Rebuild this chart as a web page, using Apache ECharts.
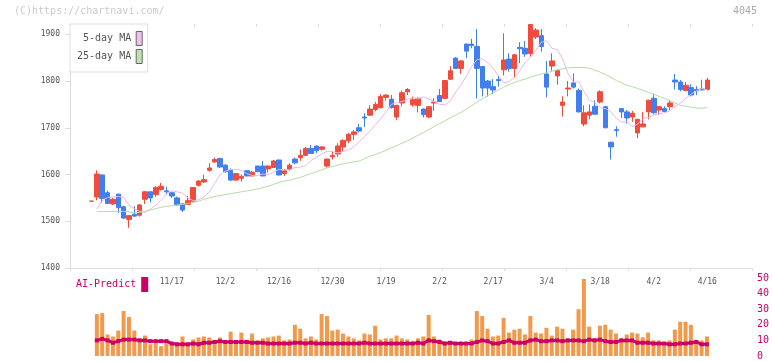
<!DOCTYPE html>
<html><head><meta charset="utf-8">
<script src="https://cdn.jsdelivr.net/npm/echarts@6/dist/echarts.min.js"></script>
<style>html,body{margin:0;padding:0;background:#fff}#c{width:772px;height:361px}</style>
</head><body><div id="c"></div>
<script>
const tickLabels = ['11/17','12/2','12/16','12/30','1/19','2/2','2/17','3/4','3/18','4/2','4/16'];
const tickIndex = [15,25,35,45,55,65,75,85,95,105,115];
const priceTicks = [1400,1500,1600,1700,1800,1900];
const volTicks = [0,10,20,30,40,50];

const openP = [1543,1552,1599,1561,1537,1558,1531,1504,1515,1513,1547,1563,1557,1568,1565,1561,1550,1537,1536,1543,
1577,1584,1609,1627,1634,1620,1609,1588,1592,1608,1597,1618,1618,1612,1615,1631,1602,1611,1633,1636,
1641,1656,1661,1654,1618,1638,1644,1659,1672,1686,1700,1723,1727,1739,1743,1765,1761,1723,1753,1777,
1749,1748,1740,1723,1753,1769,1763,1804,1849,1827,1879,1879,1874,1831,1800,1788,1803,1824,1847,1827,
1872,1870,1859,1894,1897,1815,1832,1811,1748,1783,1796,1780,1708,1727,1746,1755,1745,1669,1696,1741,
1734,1723,1689,1702,1734,1763,1738,1741,1745,1802,1798,1780,1786,1782,1783,1782];
const closeP = [1543,1601,1549,1538,1547,1529,1507,1512,1511,1535,1563,1550,1572,1575,1563,1554,1535,1524,1544,1572,
1586,1589,1614,1632,1616,1606,1588,1602,1596,1597,1605,1606,1597,1618,1629,1599,1608,1620,1625,1641,
1656,1645,1651,1659,1633,1641,1661,1673,1686,1691,1693,1721,1740,1750,1767,1770,1743,1748,1775,1782,
1760,1763,1728,1745,1755,1756,1801,1822,1827,1843,1864,1876,1827,1785,1785,1781,1801,1845,1827,1856,
1869,1858,1921,1909,1874,1787,1843,1822,1755,1785,1787,1734,1732,1734,1729,1777,1700,1659,1694,1734,
1721,1731,1718,1708,1759,1732,1745,1735,1753,1798,1782,1791,1770,1779,1781,1802];
const lowP = [1543,1545,1539,1537,1535,1518,1505,1486,1509,1510,1537,1540,1552,1566,1557,1550,1533,1520,1535,1541,
1574,1582,1606,1625,1614,1604,1586,1587,1585,1596,1596,1605,1596,1604,1614,1598,1597,1608,1622,1629,
1640,1644,1646,1651,1615,1632,1638,1649,1667,1674,1690,1702,1725,1735,1741,1758,1741,1716,1746,1770,
1745,1733,1722,1721,1736,1755,1761,1802,1826,1815,1849,1870,1763,1767,1767,1772,1788,1812,1820,1807,
1838,1852,1852,1890,1863,1765,1822,1792,1724,1767,1784,1733,1703,1718,1728,1752,1699,1632,1681,1721,
1709,1713,1678,1701,1718,1729,1727,1733,1738,1782,1778,1778,1767,1770,1780,1780];
const highP = [1543,1609,1600,1565,1550,1559,1533,1513,1532,1537,1565,1564,1575,1582,1574,1563,1553,1539,1554,1573,
1588,1600,1624,1636,1636,1622,1613,1603,1600,1609,1608,1619,1629,1620,1631,1632,1612,1624,1636,1654,
1659,1663,1662,1661,1634,1649,1667,1675,1689,1695,1708,1731,1748,1755,1772,1771,1770,1749,1780,1785,
1767,1765,1741,1746,1763,1783,1802,1832,1851,1845,1880,1890,1911,1832,1802,1804,1812,1902,1859,1858,
1883,1886,1922,1913,1911,1843,1859,1825,1767,1800,1816,1784,1748,1750,1759,1780,1747,1670,1703,1742,
1738,1736,1719,1734,1760,1772,1747,1746,1759,1815,1802,1798,1793,1789,1803,1807];
const ma5 = [null,1526,1544,1551,1552,1553,1551,1534,1527,1521,1519,1526,1534,1546,1559,1565,1563,1560,1550,1544,
1546,1552,1563,1581,1599,1607,1611,1611,1609,1602,1598,1598,1601,1600,1605,1611,1610,1610,1615,1616,
1619,1630,1637,1644,1650,1649,1646,1649,1653,1659,1670,1681,1693,1706,1719,1734,1750,1754,1756,1761,
1764,1762,1766,1762,1756,1750,1749,1757,1776,1792,1810,1831,1846,1847,1839,1827,1811,1796,1799,1808,
1822,1840,1851,1866,1883,1886,1870,1867,1847,1816,1798,1798,1777,1759,1754,1743,1741,1734,1720,1712,
1713,1702,1708,1720,1722,1727,1730,1732,1736,1745,1753,1763,1772,1779,1784,1781];
const ma25 = [null,1521,1521,1521,1521,1521,1521,1520,1518,1519,1521,1524,1527,1530,1532,1533,1535,1536,1538,1540,
1543,1547,1550,1553,1555,1557,1559,1561,1563,1565,1567,1569,1572,1575,1579,1583,1586,1588,1591,1594,
1598,1602,1606,1610,1614,1617,1620,1623,1625,1627,1629,1634,1639,1643,1647,1652,1657,1662,1667,1672,
1678,1684,1690,1696,1703,1709,1715,1721,1727,1733,1740,1747,1755,1762,1769,1775,1781,1787,1792,1797,
1801,1804,1808,1812,1815,1818,1821,1824,1826,1828,1829,1829,1829,1827,1823,1819,1814,1808,1801,1796,
1791,1788,1784,1780,1776,1772,1767,1763,1758,1753,1748,1746,1744,1742,1742,1743];
const volume = [null,26.9,27.5,13.8,12.5,16.3,28.8,25,16.3,11.3,13.1,7.5,8.1,6.3,8.1,7.5,7.5,12.5,8.1,10.6,
11.9,12.5,11.9,10,11.9,10,15.6,10,15,10,14.4,10,11.3,11.9,12.5,13.1,10,10.6,20,17.5,
11.3,12.5,10.6,26.9,25.6,16.3,16.9,14.4,12.5,11.3,10,14.4,13.8,19.4,10.6,11.3,11.3,13.1,11.3,10.6,
9.4,11.3,12.5,26.3,12.5,10.6,7.5,9.4,7.5,7.5,8.8,10.6,28.8,25.6,17.5,12.5,13.1,24.4,15,16.9,
17.5,13.8,25.6,15,14.4,18.1,13.1,18.8,17.5,11.3,16.9,30,49.4,18.8,11.3,19.4,20,16.9,14.4,11.3,
13.8,15,14.4,12,15,10,10,9,10,16.9,22,22,20,10,10,12.5];
const aiPredict = [null,10,11,10,8.5,9.5,10.5,10.5,10.5,10,10,9.5,9.5,9.5,9.5,8,7.5,7.5,7.5,8,
7.5,8.5,8.5,9,9.5,9,9,9,9,9,8.5,8.5,8.5,8,8,8,8,8,8.5,8.5,
8,8.5,8,8,8,8,8,8,8,8,8,8.5,8,8,8,8,8,8,8,8,
8,8.5,8,10,9.5,9,8,8.5,8,8,8,8,9,10,9.5,8,8,9,10,8.5,
8.5,8.5,10,10.5,9.5,9.5,10,10,9.5,10,10,10,9.5,10.5,10,10.5,9.5,9,9,10,
10,10,8.5,8.5,8.5,8,8,8,7.5,7.5,8,8,8.5,9,7.5,7.5];

const n = closeP.length;
const categories = [];
for (let i = 0; i < n; i++) {
  const k = tickIndex.indexOf(i);
  categories.push(k >= 0 ? tickLabels[k] : '#' + i);
}
const candles = openP.map((o, i) => [o, closeP[i], lowP[i], highP[i]]);

const MONO = 'DejaVu Sans Mono';
const RED = '#f04b3c', BLUE = '#3f7ff0';
const AXC = '#dddddd';
const plotL = 70, plotW = 682, topY = 24, plotH = 244;
const cL = 91.5, cW = 615.8;

const chart = echarts.init(document.getElementById('c'), null, {renderer: 'canvas'});
chart.setOption({
  animation: false,
  backgroundColor: '#fff',
  grid: [
    {left: plotL, top: topY, width: plotW, height: plotH},
    {left: cL, top: topY, width: cW, height: plotH},
    {left: cL, top: 278, width: cW, height: 80}
  ],
  legend: [{
    orient: 'vertical', left: 70, top: 24, align: 'right', selectedMode: false,
    itemWidth: 6, itemHeight: 14, itemGap: 3, padding: [7, 5, 8, 7],
    borderColor: AXC, borderWidth: 1, backgroundColor: '#fff',
    textStyle: {fontFamily: MONO, fontSize: 10, color: '#555'},
    data: [
      {name: '5-day MA', icon: 'rect', itemStyle: {color: '#f0bff0', borderColor: '#666', borderWidth: 1}},
      {name: '25-day MA', icon: 'rect', itemStyle: {color: '#bfe3b0', borderColor: '#666', borderWidth: 1}}
    ]
  }, {
    orient: 'horizontal', left: 76, top: 277, align: 'right', selectedMode: false,
    itemWidth: 7, itemHeight: 15, padding: 0,
    textStyle: {fontFamily: MONO, fontSize: 10, color: '#cc0066'},
    data: [{name: 'AI-Predict', icon: 'rect', itemStyle: {color: '#cc0066', borderWidth: 0}}]
  }],
  xAxis: [
    {gridIndex: 0, type: 'value', min: 0, max: 11, interval: 1,
      axisLine: {show: true, lineStyle: {color: AXC}}, axisTick: {show: true, length: 3, lineStyle: {color: AXC}},
      axisLabel: {show: false}, splitLine: {show: false}},
    {gridIndex: 0, type: 'value', min: 0, max: 11, interval: 1,
      axisLine: {show: false}, axisTick: {show: true, inside: true, length: 3, lineStyle: {color: AXC}},
      axisLabel: {show: false}, splitLine: {show: false}},
    {gridIndex: 1, type: 'category', data: categories, boundaryGap: false,
      axisLine: {show: false}, axisTick: {show: false}, splitLine: {show: false},
      axisLabel: {interval: (idx) => tickIndex.indexOf(idx) >= 0, margin: 10, fontFamily: MONO, fontSize: 8, color: '#555'}},
    {gridIndex: 2, type: 'category', data: categories, boundaryGap: false, show: false}
  ],
  yAxis: [
    {gridIndex: 0, type: 'value', min: 1400, max: 1922, interval: 100,
      axisLine: {show: true, lineStyle: {color: AXC}},
      axisTick: {show: true, length: 5, lineStyle: {color: AXC}, customValues: priceTicks},
      axisLabel: {margin: 10, fontFamily: MONO, fontSize: 8, color: '#555', customValues: priceTicks,
        formatter: (v) => String(v)},
      splitLine: {show: false}},
    {gridIndex: 1, type: 'value', min: 1400, max: 1922, show: false, splitLine: {show: false}},
    {gridIndex: 2, type: 'value', min: 0, max: 50, interval: 10, position: 'right',
      axisLine: {show: false}, axisTick: {show: false}, splitLine: {show: false},
      axisLabel: {margin: 50, fontFamily: MONO, fontSize: 10, color: '#cc0066', customValues: volTicks,
        formatter: (v) => String(v)}}
  ],
  series: [
    {name: 'price', type: 'candlestick', xAxisIndex: 2, yAxisIndex: 1, data: candles, barWidth: 5,
      itemStyle: {color: RED, color0: BLUE, borderColor: RED, borderColor0: BLUE, borderWidth: 1}},
    {name: '5-day MA', type: 'line', xAxisIndex: 2, yAxisIndex: 1, data: ma5, showSymbol: false, silent: true,
      lineStyle: {color: '#e8b8ea', width: 1}, itemStyle: {color: '#f0bff0'}},
    {name: '25-day MA', type: 'line', xAxisIndex: 2, yAxisIndex: 1, data: ma25, showSymbol: false, silent: true,
      lineStyle: {color: '#b5dca5', width: 1}, itemStyle: {color: '#bfe3b0'}},
    {name: 'volume', type: 'bar', xAxisIndex: 3, yAxisIndex: 2, data: volume, barWidth: 4,
      itemStyle: {color: '#f2994a'}},
    {name: 'AI-Predict', type: 'line', xAxisIndex: 3, yAxisIndex: 2, data: aiPredict,
      symbol: 'rect', symbolSize: 4, showSymbol: true, showAllSymbol: true,
      lineStyle: {color: '#cc0066', width: 3}, itemStyle: {color: '#cc0066'}}
  ],
  graphic: [
    {type: 'text', left: 14, top: 6, style: {text: '(C)https://chartnavi.com/', font: '10px ' + MONO, fill: '#cccccc'}},
    {type: 'text', right: 15, top: 6, style: {text: '4045', font: '10px ' + MONO, fill: '#aaaaaa'}}
  ]
});
</script>
</body></html>
